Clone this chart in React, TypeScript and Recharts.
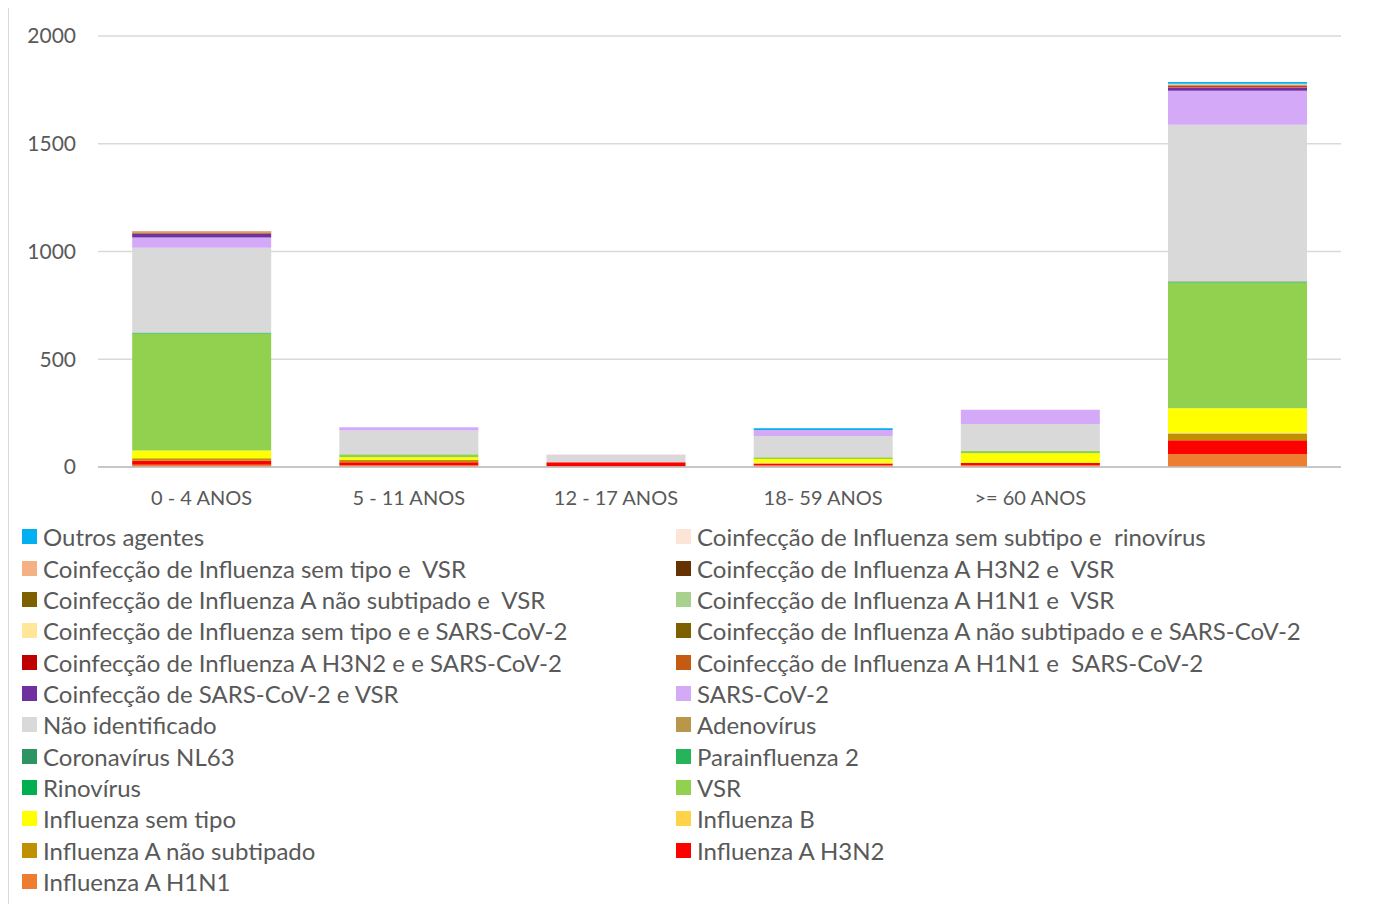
import { BarChart, Bar, XAxis, YAxis, CartesianGrid } from 'recharts';

const CATEGORIES = ['0 - 4 ANOS', '5 - 11 ANOS', '12 - 17 ANOS', '18- 59 ANOS', '>= 60 ANOS', ''];
const Y_TICKS = [0, 500, 1000, 1500, 2000];

// series, bottom of the stack first
const H1N1 = [10, 8, 4, 8, 8, 60];
const H3N2 = [19, 14, 18, 8, 10, 64];
const A_NAO_SUBTIPADO = [12, 12, 0, 0, 0, 32];
const INFLUENZA_B = [0, 0, 0, 4, 0, 4];
const SEM_TIPO = [36, 11, 0, 17, 46, 113];
const VSR = [543, 14, 0, 8, 11, 583];
const RINOVIRUS = [2, 0, 0, 0, 0, 2];
const PARAINFLUENZA_2 = [1, 0, 0, 0, 0, 1];
const CORONAVIRUS_NL63 = [1, 0, 0, 0, 0, 2];
const ADENOVIRUS = [0, 0, 0, 0, 0, 1];
const NAO_IDENTIFICADO = [393, 110, 33, 99, 125, 726];
const SARS_COV_2 = [48, 15, 2, 28, 66, 158];
const CO_SARS_VSR = [17, 0, 0, 0, 0, 15];
const CO_H1N1_SARS = [3, 0, 0, 0, 0, 4];
const CO_H3N2_SARS = [2, 0, 0, 0, 0, 3];
const CO_NAOSUB_SARS = [2, 0, 0, 0, 0, 2];
const CO_SEMTIPO_SARS = [1, 0, 0, 0, 0, 1];
const CO_H1N1_VSR = [1, 0, 0, 0, 0, 1];
const CO_NAOSUB_VSR = [1, 0, 0, 0, 0, 1];
const CO_H3N2_VSR = [1, 0, 0, 0, 0, 1];
const CO_SEMTIPO_VSR = [2, 0, 0, 0, 0, 2];
const CO_SEMSUB_RINO = [0, 0, 2, 0, 2, 2];
const OUTROS = [0, 0, 0, 8, 0, 8];

const SERIES = [
  { key: 'h1n1', name: 'Influenza A H1N1', color: '#ed7d31', values: H1N1 },
  { key: 'h3n2', name: 'Influenza A H3N2', color: '#ff0000', values: H3N2 },
  { key: 'naosub', name: 'Influenza A não subtipado', color: '#bf9000', values: A_NAO_SUBTIPADO },
  { key: 'fluB', name: 'Influenza B', color: '#ffd347', values: INFLUENZA_B },
  { key: 'semtipo', name: 'Influenza sem tipo', color: '#ffff00', values: SEM_TIPO },
  { key: 'vsr', name: 'VSR', color: '#92d050', values: VSR },
  { key: 'rino', name: 'Rinovírus', color: '#00b050', values: RINOVIRUS },
  { key: 'para2', name: 'Parainfluenza 2', color: '#26b45a', values: PARAINFLUENZA_2 },
  { key: 'nl63', name: 'Coronavírus NL63', color: '#2e9463', values: CORONAVIRUS_NL63 },
  { key: 'adeno', name: 'Adenovírus', color: '#b8964a', values: ADENOVIRUS },
  { key: 'naoid', name: 'Não identificado', color: '#d9d9d9', values: NAO_IDENTIFICADO },
  { key: 'sars', name: 'SARS-CoV-2', color: '#d4aaf8', values: SARS_COV_2 },
  { key: 'coSarsVsr', name: 'Coinfecção de SARS-CoV-2 e VSR', color: '#7030a0', values: CO_SARS_VSR },
  { key: 'coH1Sars', name: 'Coinfecção de Influenza A H1N1 e  SARS-CoV-2', color: '#c55a11', values: CO_H1N1_SARS },
  { key: 'coH3Sars', name: 'Coinfecção de Influenza A H3N2 e e SARS-CoV-2', color: '#c00000', values: CO_H3N2_SARS },
  { key: 'coNsSars', name: 'Coinfecção de Influenza A não subtipado e e SARS-CoV-2', color: '#7f6000', values: CO_NAOSUB_SARS },
  { key: 'coStSars', name: 'Coinfecção de Influenza sem tipo e e SARS-CoV-2', color: '#ffe699', values: CO_SEMTIPO_SARS },
  { key: 'coH1Vsr', name: 'Coinfecção de Influenza A H1N1 e  VSR', color: '#a9d18e', values: CO_H1N1_VSR },
  { key: 'coNsVsr', name: 'Coinfecção de Influenza A não subtipado e  VSR', color: '#7f6000', values: CO_NAOSUB_VSR },
  { key: 'coH3Vsr', name: 'Coinfecção de Influenza A H3N2 e  VSR', color: '#663300', values: CO_H3N2_VSR },
  { key: 'coStVsr', name: 'Coinfecção de Influenza sem tipo e  VSR', color: '#f4b183', values: CO_SEMTIPO_VSR },
  { key: 'coSsRino', name: 'Coinfecção de Influenza sem subtipo e  rinovírus', color: '#fbe5d6', values: CO_SEMSUB_RINO },
  { key: 'outros', name: 'Outros agentes', color: '#00b0f0', values: OUTROS },
];

const data = CATEGORIES.map((c, i) => {
  const row: Record<string, string | number> = { cat: c };
  SERIES.forEach((s) => {
    row[s.key] = s.values[i];
  });
  return row;
});

const legendItems = [...SERIES].reverse();
const FONT = 'Lato, "Open Sans", sans-serif';

export default function App() {
  return (
    <div
      style={{
        position: 'relative',
        width: 1362,
        height: 897,
        marginTop: -1,
        border: '1px solid #d9d9d9',
        borderBottom: 'none',
        boxSizing: 'border-box',
        background: '#fff',
        fontFamily: FONT,
        overflow: 'hidden',
      }}
    >
      <BarChart
        width={1360}
        height={520}
        data={data}
        barCategoryGap="16.5%"
        margin={{ top: 28, right: 28, left: 0, bottom: 0 }}
      >
        <CartesianGrid vertical={false} stroke="#d9d9d9" strokeWidth={1.5} />
        <XAxis
          dataKey="cat"
          tickLine={false}
          axisLine={{ stroke: '#bfbfbf', strokeWidth: 1.5 }}
          tick={{ fill: '#595959', fontSize: 20, fontFamily: FONT }}
          tickMargin={18}
          height={61}
          interval={0}
        />
        <YAxis
          domain={[0, 2000]}
          ticks={Y_TICKS}
          tickLine={false}
          axisLine={false}
          width={89}
          tickMargin={16}
          tick={{ fill: '#595959', fontSize: 21, fontFamily: FONT }}
        />
        {SERIES.map((s) => (
          <Bar key={s.key} dataKey={s.key} name={s.name} stackId="a" fill={s.color} isAnimationActive={false} />
        ))}
      </BarChart>
      <div
        style={{
          position: 'absolute',
          left: 13,
          top: 513,
          display: 'grid',
          gridTemplateColumns: '654px 690px',
          gridAutoRows: '31.36px',
          color: '#595959',
          fontSize: 24,
        }}
      >
        {legendItems.map((s) => (
          <div key={s.key} style={{ display: 'flex', alignItems: 'center', whiteSpace: 'pre', lineHeight: '31px' }}>
            <span style={{ width: 15, height: 15, background: s.color, marginRight: 6, flexShrink: 0 }} />
            <span>{s.name}</span>
          </div>
        ))}
      </div>
    </div>
  );
}
